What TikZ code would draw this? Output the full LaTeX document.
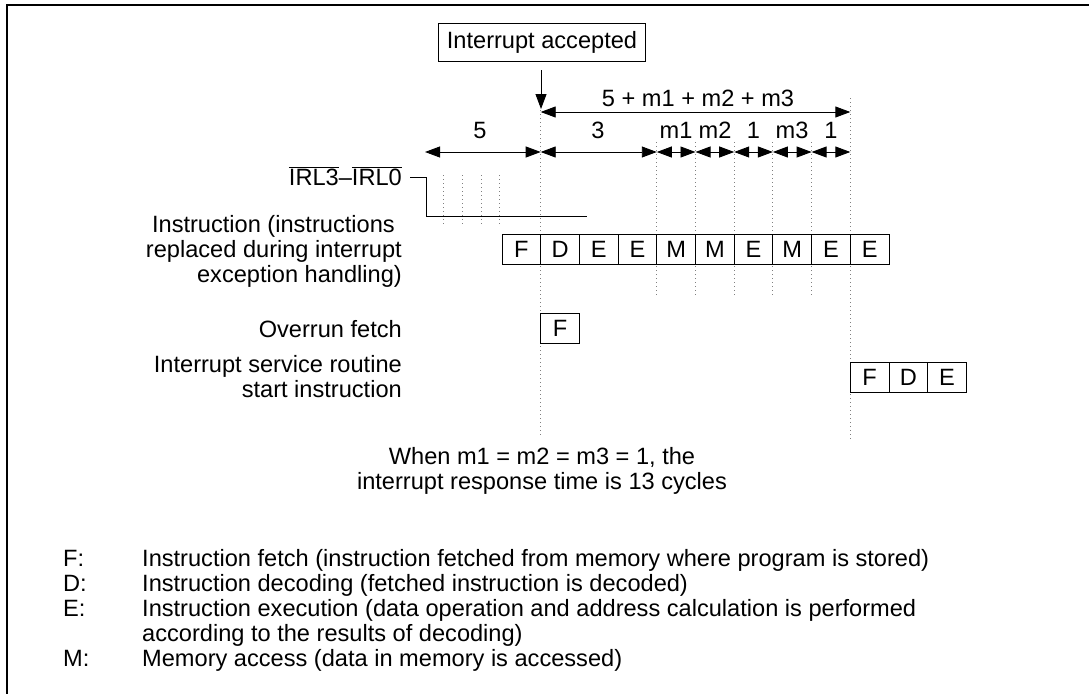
\documentclass[tikz,border=0pt]{standalone}
\usepackage{fontspec}
\setmainfont{Liberation Sans}
\usetikzlibrary{arrows.meta}
\tikzset{
  every node/.style={font=\fontsize{23.6}{25}\selectfont, inner sep=0pt},
  cell/.style={draw, line width=0.9pt, minimum width=38.7pt, minimum height=30pt, inner sep=0pt},
  tag/.style={draw, line width=0.9pt, inner xsep=8pt, minimum height=38pt},
  dimline/.style={line width=0.9pt, {Triangle[length=15pt,width=11pt]}-{Triangle[length=15pt,width=11pt]}},
  downarrow/.style={line width=0.9pt, -{Triangle[length=15pt,width=11pt]}},
  guide/.style={gray, line width=0.9pt, dash pattern=on 1pt off 3pt},
  sig/.style={line width=0.9pt},
  rlabel/.style={anchor=east, align=right},
  legend/.style={anchor=base west},
}
\begin{document}
\begin{tikzpicture}[x=1pt,y=-1pt]
\useasboundingbox (0,0) rectangle (1089,694);
% frame
\draw[line width=1.3pt] (1089,5) -- (7,5) -- (7,694);

% interrupt accepted
\node[tag] (acc) at (542,42) {Interrupt accepted};
\coordinate (dn0) at (541,70);
\coordinate (dn1) at (541,109);
\draw[downarrow] (dn0) -- (dn1);

% guide lines
\draw[guide] (540.7,110) -- (540.7,436);
\draw[guide] (850.3,98) -- (850.3,440);
\foreach \k in {4,...,8}{
  \draw[guide] (502+38.7*\k,142) -- (502+38.7*\k,297);
}
\foreach \x in {443,462,481,499}{
  \draw[guide] (\x,175) -- (\x,225);
}

% dimension coordinates
\coordinate (a0) at (425,152);
\coordinate (a1) at (540.7,152);
\coordinate (a2) at (656.8,152);
\coordinate (a3) at (695.5,152);
\coordinate (a4) at (734.2,152);
\coordinate (a5) at (772.9,152);
\coordinate (a6) at (811.6,152);
\coordinate (a7) at (850.3,152);
\coordinate (b0) at (540.7,112);
\coordinate (b1) at (850.3,112);

\draw[dimline] (b0) -- (b1);
\node (ltot) at (698,98) {5 + m1 + m2 + m3};

\draw[dimline] (a0) -- (a1);
\draw[dimline] (a1) -- (a2);
\draw[dimline] (a2) -- (a3);
\draw[dimline] (a3) -- (a4);
\draw[dimline] (a4) -- (a5);
\draw[dimline] (a5) -- (a6);
\draw[dimline] (a6) -- (a7);
\node (l0) at (480,130) {5};
\node (l1) at (598,130) {3};
\node (l2) at (676,130) {m1};
\node (l3) at (715,130) {m2};
\node (l4) at (753.5,130) {1};
\node (l5) at (792,130) {m3};
\node (l6) at (831,130) {1};

% IRL signal
\node[rlabel] (irl) at (402,176) {$\overline{\mbox{IRL3}}$--$\overline{\mbox{IRL0}}$};
\coordinate (s0) at (410,177);
\coordinate (s1) at (426,177);
\coordinate (s2) at (426,216);
\coordinate (s3) at (587,216);
\draw[sig] (s0) -- (s1) -- (s2) -- (s3);

% left labels
\node[rlabel] (linstr) at (402,251) {Instruction (instructions\hspace*{0.3em}\\replaced during interrupt\\exception handling)};
\node[rlabel] (lover) at (402,329) {Overrun fetch};
\node[rlabel] (lisr) at (402,377) {Interrupt service routine\\start instruction};

% instruction row
\foreach \t [count=\i from 0] in {F,D,E,E,M,M,E,M,E,E}{
  \node[cell] (c\i) at (502+38.7*\i+19.35,249) {\t};
}
% overrun fetch
\node[cell] (of) at (560.05,328) {F};
% ISR start
\node[cell] (r0) at (869.65,377) {F};
\node[cell] (r1) at (908.35,377) {D};
\node[cell] (r2) at (947.05,377) {E};

% note
\node[align=center] (note) at (542,471) {When m1 = m2 = m3 = 1, the\\interrupt response time is 13 cycles};

% legend
\node[legend] (kF) at (63,566) {F:};
\node[legend] (kD) at (63,591) {D:};
\node[legend] (kE) at (63,616) {E:};
\node[legend] (kM) at (63,666) {M:};
\node[legend] (dF) at (142,566) {Instruction fetch (instruction fetched from memory where program is stored)};
\node[legend] (dD) at (142,591) {Instruction decoding (fetched instruction is decoded)};
\node[legend] (dE) at (142,616) {Instruction execution (data operation and address calculation is performed};
\node[legend] (dE2) at (142,641) {according to the results of decoding)};
\node[legend] (dM) at (142,666) {Memory access (data in memory is accessed)};
\end{tikzpicture}
\end{document}
